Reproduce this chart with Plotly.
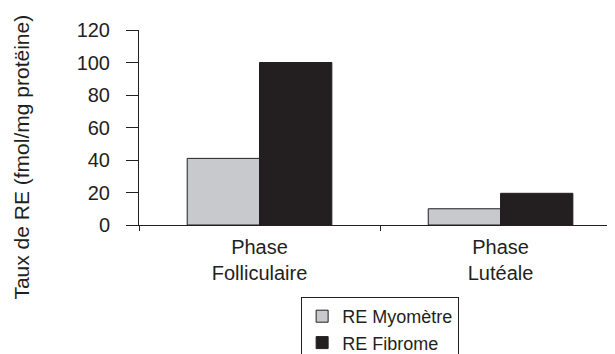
import plotly.graph_objects as go

categories = ["Phase<br>Folliculaire", "Phase<br>Lutéale"]
myometre = [41, 10]
fibrome = [100, 19.5]
series_names = ["RE Myomètre", "RE Fibrome"]
y_ticks = [0, 20, 40, 60, 80, 100, 120]
y_title = "Taux de RE (fmol/mg protëine)"

FONT = dict(family="Liberation Sans", size=20, color="#231f20")

fig = go.Figure()
fig.add_trace(go.Bar(x=categories, y=myometre, name=series_names[0],
                     marker=dict(color="#c8c9cc", line=dict(color="#231f20", width=1))))
fig.add_trace(go.Bar(x=categories, y=fibrome, name=series_names[1],
                     marker=dict(color="#231f20", line=dict(color="#231f20", width=1))))

fig.update_layout(
    width=615, height=354,
    margin=dict(l=131, r=0, t=22, b=104),
    paper_bgcolor="white", plot_bgcolor="white",
    font=FONT,
    barmode="group", bargap=0.4, bargroupgap=0,
    showlegend=True,
    legend=dict(x=0.335, y=-0.37, xanchor="left", yanchor="top",
                bordercolor="#231f20", borderwidth=1, bgcolor="white",
                font=dict(size=18), tracegroupgap=0),
    xaxis=dict(range=[-0.5, 1.508], showline=True, linecolor="#231f20", linewidth=1,
               ticks="outside", tickson="boundaries", ticklen=5, tickcolor="#231f20",
               showgrid=False, zeroline=False, automargin=False, ticklabelstandoff=4),
    yaxis=dict(range=[0, 120], tickvals=y_ticks, showline=True, linecolor="#231f20",
               linewidth=1, ticks="outside", ticklen=12, tickcolor="#231f20",
               showgrid=False, zeroline=False, ticklabelstandoff=12, automargin=False),
    annotations=[dict(text=y_title, textangle=-90, xref="paper", yref="paper",
                      x=-0.242, y=0.35, xanchor="center", yanchor="middle",
                      showarrow=False, font=dict(size=21))],
)

fig.write_html("out.html")
